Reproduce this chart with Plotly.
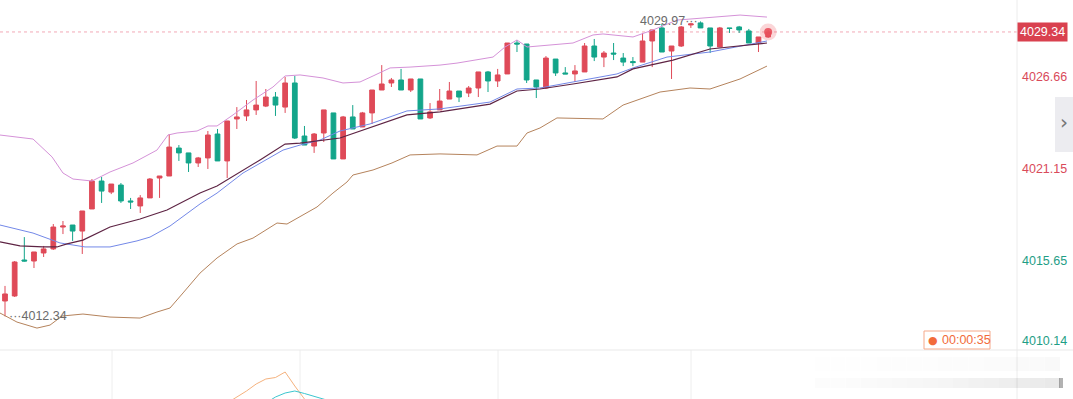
import plotly.graph_objects as go

# ---------------- data ----------------
idx = list(range(80))
opens = [4013.26, 4013.56, 4015.71, 4015.65, 4016.13, 4016.37, 4017.68, 4017.80, 4017.44, 4018.76,
         4020.43, 4019.77, 4020.19, 4019.24, 4018.94, 4019.42, 4020.61, 4020.73, 4022.40, 4022.11,
         4021.51, 4021.81, 4023.24, 4021.63, 4024.14, 4024.32, 4024.68, 4024.91, 4025.45, 4024.85,
         4026.29, 4023.12, 4022.52, 4023.30, 4024.50, 4021.75, 4024.26, 4023.66, 4024.50, 4025.87,
         4026.29, 4026.47, 4025.87, 4026.53, 4024.20, 4024.68, 4025.33, 4025.81, 4025.69, 4025.99,
         4026.95, 4026.41, 4026.83, 4028.68, 4028.62, 4026.47, 4025.99, 4027.72, 4026.89, 4026.83,
         4026.95, 4028.50, 4027.84, 4028.08, 4027.78, 4027.57, 4027.54, 4028.80, 4029.58, 4028.20,
         4028.50, 4029.76, 4029.88, 4029.58, 4028.44, 4029.58, 4029.64, 4029.40, 4028.68, 4029.04]
highs = [4014.16, 4015.65, 4017.08, 4016.19, 4016.55, 4017.86, 4018.04, 4017.80, 4018.64, 4020.55,
         4020.67, 4020.25, 4020.31, 4019.42, 4019.59, 4020.61, 4020.73, 4023.24, 4022.58, 4022.11,
         4021.87, 4023.42, 4023.54, 4024.02, 4024.85, 4025.27, 4026.41, 4025.93, 4025.75, 4026.65,
         4026.71, 4023.72, 4023.30, 4024.68, 4024.50, 4024.32, 4024.97, 4024.56, 4025.87, 4027.36,
         4026.59, 4027.13, 4026.53, 4026.53, 4025.09, 4025.93, 4026.35, 4025.81, 4026.11, 4026.95,
         4027.01, 4027.13, 4028.68, 4028.86, 4028.62, 4026.47, 4027.90, 4027.72, 4027.24, 4027.36,
         4028.68, 4028.92, 4028.20, 4028.68, 4028.08, 4027.84, 4029.28, 4029.46, 4029.82, 4028.50,
         4029.70, 4029.88, 4029.97, 4029.58, 4029.64, 4029.58, 4029.70, 4029.52, 4029.04, 4029.46]
lows = [4012.34, 4013.50, 4015.62, 4015.23, 4015.89, 4016.31, 4017.26, 4016.85, 4016.07, 4018.76,
        4019.12, 4019.65, 4019.12, 4018.76, 4018.52, 4019.42, 4019.42, 4020.73, 4021.63, 4020.97,
        4021.27, 4021.15, 4021.63, 4020.61, 4023.54, 4024.02, 4024.38, 4024.85, 4024.32, 4024.50,
        4022.94, 4022.58, 4022.11, 4022.76, 4021.75, 4021.75, 4023.54, 4023.66, 4023.84, 4025.87,
        4026.05, 4025.87, 4025.75, 4024.14, 4024.14, 4024.68, 4025.33, 4025.15, 4025.45, 4025.45,
        4025.75, 4026.05, 4026.83, 4028.14, 4026.29, 4025.39, 4025.93, 4026.71, 4026.83, 4026.35,
        4026.95, 4027.60, 4027.24, 4027.66, 4027.30, 4027.30, 4027.54, 4027.24, 4028.14, 4026.53,
        4028.44, 4029.58, 4029.58, 4028.08, 4028.44, 4029.28, 4029.28, 4028.68, 4028.14, 4028.98]
closes = [4013.68, 4015.59, 4015.65, 4016.19, 4016.37, 4017.68, 4017.74, 4017.44, 4018.64, 4020.43,
          4019.83, 4020.25, 4019.24, 4019.18, 4019.42, 4020.55, 4020.73, 4022.46, 4022.11, 4021.51,
          4021.81, 4023.18, 4021.63, 4024.02, 4024.26, 4024.68, 4024.97, 4025.45, 4024.97, 4026.29,
          4023.00, 4022.58, 4023.24, 4024.68, 4021.75, 4024.26, 4023.54, 4024.50, 4025.87, 4026.23,
          4026.47, 4025.87, 4026.53, 4024.14, 4024.56, 4025.21, 4025.81, 4025.45, 4025.99, 4026.95,
          4026.41, 4026.77, 4028.68, 4028.62, 4026.47, 4026.05, 4027.78, 4026.89, 4026.83, 4027.01,
          4028.50, 4027.84, 4028.08, 4028.02, 4027.54, 4027.51, 4028.80, 4029.46, 4028.14, 4028.50,
          4029.64, 4029.82, 4029.58, 4028.50, 4029.58, 4029.55, 4029.46, 4028.68, 4029.04, 4029.34]

upper_x = [-0.52, 2.90, 4.87, 6.00, 7.04, 9.01, 10.87, 13.25, 15.73, 16.87, 17.81, 19.88, 21.01, 21.95,
           23.60, 25.67, 27.74, 28.99, 30.54, 32.92, 34.99, 36.75, 38.10, 39.86, 41.93, 45.03, 46.79,
           50.52, 51.76, 53.00, 54.04, 58.80, 60.87, 61.90, 65.01, 67.08, 69.57, 71.95, 76.09, 78.88]
upper_v = [4023.18, 4022.94, 4021.87, 4020.91, 4020.55, 4020.43, 4020.97, 4021.51, 4022.28, 4023.18,
           4023.30, 4023.42, 4023.72, 4023.72, 4024.38, 4025.27, 4026.05, 4026.71, 4026.77, 4026.59,
           4026.29, 4026.35, 4026.71, 4027.19, 4027.24, 4027.36, 4027.48, 4027.84, 4028.44, 4028.86,
           4028.44, 4028.68, 4029.16, 4029.22, 4029.04, 4029.46, 4030.05, 4030.17, 4030.35, 4030.23]

blue_x = [-0.52, 2.90, 5.69, 8.28, 10.87, 13.66, 15.01, 17.08, 20.19, 21.95, 24.64, 26.40, 28.78, 30.54,
          32.61, 34.68, 37.78, 41.61, 45.03, 50.21, 53.00, 55.38, 58.80, 63.35, 65.01, 68.53, 72.98, 78.88]
blue_v = [4017.80, 4017.32, 4016.73, 4016.49, 4016.49, 4016.85, 4017.08, 4017.74, 4019.06, 4019.71,
          4020.91, 4021.51, 4022.28, 4022.58, 4022.88, 4023.42, 4023.84, 4024.62, 4024.74, 4025.15,
          4025.93, 4025.99, 4026.35, 4026.83, 4027.19, 4027.84, 4028.14, 4028.80]

dark_x = [-0.52, 1.55, 3.93, 5.38, 6.42, 8.07, 10.87, 13.98, 16.77, 20.19, 21.95, 24.02, 26.40, 28.99,
          30.54, 34.68, 37.78, 41.61, 45.03, 50.21, 53.00, 55.38, 58.80, 63.35, 65.01, 69.15, 72.98, 78.88]
dark_v = [4016.79, 4016.55, 4016.49, 4016.49, 4016.67, 4016.90, 4017.68, 4018.16, 4018.70, 4019.71,
          4020.13, 4020.85, 4021.69, 4022.64, 4022.70, 4023.00, 4023.60, 4024.38, 4024.56, 4025.03,
          4025.81, 4025.93, 4026.23, 4026.65, 4027.13, 4027.66, 4028.32, 4028.68]

lower_x = [-0.52, 1.24, 3.31, 4.66, 5.90, 8.07, 10.87, 13.98, 15.73, 17.08, 18.43, 20.19, 21.95, 24.02,
           25.67, 28.16, 29.19, 30.85, 32.30, 33.95, 35.40, 36.02, 38.10, 40.06, 41.93, 45.03, 48.86,
           50.93, 53.00, 54.04, 55.38, 57.14, 61.90, 63.98, 65.73, 67.81, 70.91, 72.98, 76.09, 78.88]
lower_v = [4012.54, 4012.00, 4011.64, 4011.82, 4012.36, 4012.48, 4012.30, 4012.24, 4012.60, 4012.84,
           4013.74, 4014.93, 4015.83, 4016.67, 4017.02, 4017.92, 4017.86, 4018.40, 4018.88, 4019.71,
           4020.37, 4020.79, 4021.09, 4021.51, 4021.99, 4022.05, 4021.99, 4022.52, 4022.52, 4023.30,
           4023.60, 4024.20, 4024.14, 4024.97, 4025.33, 4025.75, 4025.99, 4025.93, 4026.53, 4027.30]

# sub-panel indicator (only the visible part)
ind1_x = [23, 24, 25, 26, 27, 28, 29, 30, 31, 32]
ind1_v = [-4, 2, 8, 15, 20, 21.5, 27, 13, 0, -13]
ind2_x = [27, 28, 29, 30, 31, 32, 33, 34]
ind2_v = [-4, 2, 6, 8, 5.5, 3, 0, -3]

axis_ticks = [4026.66, 4021.15, 4015.65]
axis_colors = ["#d94a5a", "#d94a5a", "#1f9e86"]
bottom_tick = 4010.14
bottom_color = "#1f9e86"
last_price = 4029.34
hi_label, lo_label = 4029.97, 4012.34
countdown = "00:00:35"

RED = "#df4a58"
GREEN = "#13a58a"
FONT = "Arial, Liberation Sans, sans-serif"

W, H = 1073, 399
PLOT_W = 1017
SUB_H = 49

fig = go.Figure()

fig.add_trace(go.Scatter(x=upper_x, y=upper_v, mode="lines",
                         line=dict(color="#d592d8", width=1), hoverinfo="skip"))
fig.add_trace(go.Scatter(x=lower_x, y=lower_v, mode="lines",
                         line=dict(color="#b5835c", width=1), hoverinfo="skip"))
fig.add_trace(go.Scatter(x=blue_x, y=blue_v, mode="lines",
                         line=dict(color="#7388e8", width=1), hoverinfo="skip"))
fig.add_trace(go.Scatter(x=dark_x, y=dark_v, mode="lines",
                         line=dict(color="#5e2444", width=1.2), hoverinfo="skip"))

fig.add_trace(go.Candlestick(
    x=idx, open=opens, high=highs, low=lows, close=closes,
    increasing=dict(line=dict(color=RED, width=1), fillcolor=RED),
    decreasing=dict(line=dict(color=GREEN, width=1), fillcolor=GREEN),
    whiskerwidth=0, hoverinfo="skip"))

# glowing current price dot
fig.add_trace(go.Scatter(x=[idx[-1]], y=[last_price], mode="markers",
                         marker=dict(size=17, color="rgba(240,90,100,0.25)", line=dict(width=0)),
                         hoverinfo="skip"))
fig.add_trace(go.Scatter(x=[idx[-1]], y=[last_price], mode="markers",
                         marker=dict(size=8, color="rgba(232,80,92,0.9)", line=dict(width=0)),
                         hoverinfo="skip"))

# sub-panel indicator lines
fig.add_trace(go.Scatter(x=ind1_x, y=ind1_v, mode="lines", yaxis="y2",
                         line=dict(color="#f5b27e", width=1), hoverinfo="skip"))
fig.add_trace(go.Scatter(x=ind2_x, y=ind2_v, mode="lines", yaxis="y2",
                         line=dict(color="#3cc6cf", width=1), hoverinfo="skip"))

x_range = [-0.518, -0.518 + PLOT_W / 9.66]
y_lo = 4031.25 - 0.05977 * (H - SUB_H)
sub_frac = SUB_H / H

shapes = []
# last price dotted line
shapes.append(dict(type="line", xref="paper", yref="y", x0=0, x1=1, y0=last_price, y1=last_price,
                   line=dict(color="#f2a9b6", width=1, dash="dot"), layer="below"))
# right axis separator
shapes.append(dict(type="line", xref="paper", yref="paper", x0=1, x1=1, y0=0, y1=1,
                   line=dict(color="#ececec", width=1)))
# panel separator
shapes.append(dict(type="line", xref="paper", yref="paper", x0=0, x1=W / PLOT_W, y0=sub_frac, y1=sub_frac,
                   line=dict(color="#e9e9e9", width=1)))
# sub-panel vertical grid
for gx in [11.08, 30.54, 51.04, 71.02]:
    shapes.append(dict(type="line", xref="x", yref="paper", x0=gx, x1=gx, y0=0, y1=sub_frac,
                       line=dict(color="#eeeeee", width=1), layer="below"))
# scroll shadow at bottom right (stepped gradient, white -> grey)
n_steps = 16
x_start, x_end = 815, 1060
for k in range(n_steps):
    xa = x_start + (x_end - x_start) * k / n_steps
    xb = x_start + (x_end - x_start) * (k + 1) / n_steps
    a = 0.012 + 0.075 * (k / (n_steps - 1)) ** 1.5
    shapes.append(dict(type="rect", xref="paper", yref="paper", x0=xa / PLOT_W, x1=xb / PLOT_W,
                       y0=(H - 388) / H, y1=(H - 378) / H, line=dict(width=0),
                       fillcolor=f"rgba(0,0,0,{a:.3f})"))
    shapes.append(dict(type="rect", xref="paper", yref="paper", x0=xa / PLOT_W, x1=xb / PLOT_W,
                       y0=(H - 371) / H, y1=(H - 357) / H, line=dict(width=0),
                       fillcolor=f"rgba(0,0,0,{a * 0.25:.3f})"))
shapes.append(dict(type="rect", xref="paper", yref="paper", x0=1059 / PLOT_W, x1=1063 / PLOT_W,
                   y0=(H - 388) / H, y1=(H - 378) / H, line=dict(width=0),
                   fillcolor="rgba(0,0,0,0.3)"))
# side toggle button
shapes.append(dict(type="rect", xref="paper", yref="paper", x0=1055 / PLOT_W, x1=1075 / PLOT_W,
                   y0=(H - 152) / H, y1=(H - 97) / H, line=dict(width=0), fillcolor="#ececf0"))
# countdown box
shapes.append(dict(type="rect", xref="paper", yref="paper", x0=924 / PLOT_W, x1=990 / PLOT_W,
                   y0=(H - 349) / H, y1=(H - 331) / H, line=dict(color="#f5a98a", width=1),
                   fillcolor="white"))

annotations = []
for v, c in zip(axis_ticks, axis_colors):
    annotations.append(dict(xref="paper", yref="y", x=1, y=v, text=f"{v:.2f}", showarrow=False,
                            xanchor="left", xshift=3,
                            font=dict(family=FONT, size=12.5, color=c)))
annotations.append(dict(xref="paper", yref="paper", x=1, y=(H - 341) / H, text=f"{bottom_tick:.2f}",
                        showarrow=False, xanchor="left", yanchor="middle", xshift=3,
                        font=dict(family=FONT, size=12.5, color=bottom_color)))
annotations.append(dict(xref="paper", yref="y", x=1, y=last_price, text=f"{last_price:.2f}",
                        showarrow=False, xanchor="left", xshift=0, bgcolor="#d9414f",
                        borderpad=2, font=dict(family=FONT, size=12.5, color="white")))
annotations.append(dict(xref="x", yref="y", x=0, y=lo_label, text="···" + f"{lo_label:.2f}",
                        showarrow=False, xanchor="left", xshift=2,
                        font=dict(family=FONT, size=12.5, color="#6b6b6b")))
annotations.append(dict(xref="x", yref="y", x=72, y=hi_label, text=f"{hi_label:.2f}" + "···",
                        showarrow=False, xanchor="right", xshift=-1,
                        font=dict(family=FONT, size=12.5, color="#6b6b6b")))
annotations.append(dict(xref="paper", yref="paper", x=933 / PLOT_W, y=(H - 340) / H,
                        xanchor="center", yanchor="middle", text="●", showarrow=False,
                        font=dict(family="DejaVu Sans", size=11, color="#f26b3a")))
annotations.append(dict(xref="paper", yref="paper", x=940 / PLOT_W, y=(H - 340) / H,
                        xanchor="left", yanchor="middle", text=countdown, showarrow=False,
                        font=dict(family=FONT, size=12.5, color="#f26b3a")))
annotations.append(dict(xref="paper", yref="paper", x=1064 / PLOT_W, y=(H - 122) / H, text="›",
                        xanchor="center", yanchor="middle",
                        showarrow=False, font=dict(family="DejaVu Sans", size=20, color="#777777")))

fig.update_layout(
    width=W, height=H,
    margin=dict(l=0, r=W - PLOT_W, t=0, b=0, pad=0),
    paper_bgcolor="white", plot_bgcolor="white",
    showlegend=False, hovermode=False,
    xaxis=dict(range=x_range, showgrid=False, zeroline=False, showticklabels=False,
               showline=False, rangeslider=dict(visible=False), fixedrange=True),
    yaxis=dict(domain=[sub_frac, 1], range=[y_lo, 4031.25], showgrid=False, zeroline=False,
               showticklabels=False, showline=False, fixedrange=True),
    yaxis2=dict(domain=[0, sub_frac], range=[0, SUB_H], showgrid=False, zeroline=False,
                showticklabels=False, showline=False, anchor="x", fixedrange=True),
    shapes=shapes, annotations=annotations,
)

fig.write_html("out.html", config={"displayModeBar": False})
